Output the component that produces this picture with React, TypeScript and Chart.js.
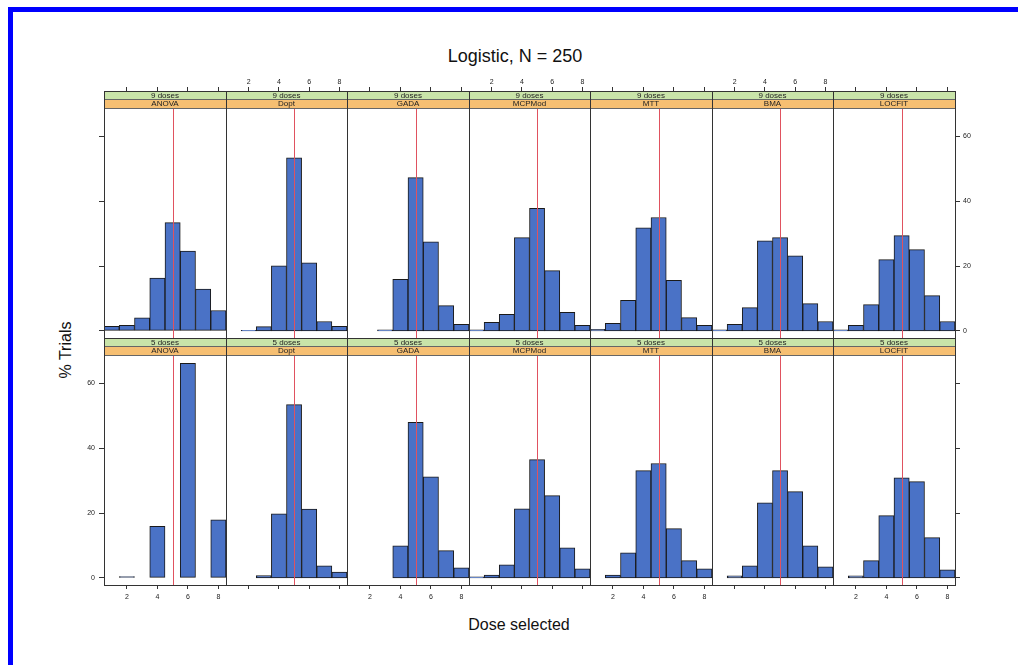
import React, { useEffect, useRef } from "react";
import { Chart, registerables } from "chart.js";

Chart.register(...registerables);

// ---------- data ----------
const doseBins = [1, 2, 3, 4, 5, 6, 7, 8];
const xTicks = [2, 4, 6, 8];
const yTicks = [0, 20, 40, 60];
const methods = ["ANOVA", "Dopt", "GADA", "MCPMod", "MTT", "BMA", "LOCFIT"];
const designs = ["9 doses", "5 doses"];
const targetDose = 5;
const yMin = -2.2;
const yMax = 68.8;

// % of trials selecting each dose, 9-dose design
const anova9 = [1.4, 1.7, 4.0, 16.3, 33.4, 24.6, 12.9, 6.3];
const dopt9 = [0, 0.2, 1.3, 20.1, 53.4, 21.0, 2.9, 1.4];
const gada9 = [0, 0, 0.3, 15.9, 47.3, 27.5, 7.8, 2.0];
const mcpmod9 = [0.3, 2.6, 5.1, 28.8, 37.8, 18.6, 5.7, 1.7];
const mtt9 = [0.5, 2.3, 9.4, 31.8, 35.0, 15.6, 4.1, 1.7];
const bma9 = [0.3, 2.0, 7.2, 27.8, 28.8, 23.2, 8.4, 2.9];
const locfit9 = [0.3, 1.7, 8.1, 22.0, 29.4, 25.1, 10.9, 2.9];

// % of trials selecting each dose, 5-dose design
const anova5 = [0, 0.4, 0, 15.9, 0, 66.2, 0, 17.9];
const dopt5 = [0, 0, 0.7, 19.8, 53.5, 21.2, 3.7, 1.8];
const gada5 = [0, 0, 0, 9.9, 48.0, 31.2, 8.4, 3.1];
const mcpmod5 = [0.3, 0.9, 4.0, 21.3, 36.5, 25.4, 9.3, 2.8];
const mtt5 = [0, 0.9, 7.7, 33.1, 35.3, 15.2, 5.3, 2.8];
const bma5 = [0, 0.6, 3.7, 23.2, 33.1, 26.6, 9.9, 3.4];
const locfit5 = [0, 0.6, 5.3, 19.2, 30.9, 29.7, 12.4, 2.5];

const rowValues = [
  [anova9, dopt9, gada9, mcpmod9, mtt9, bma9, locfit9],
  [anova5, dopt5, gada5, mcpmod5, mtt5, bma5, locfit5],
];

// ---------- layout / style ----------
const FONT = "'Liberation Sans', Arial, Helvetica, sans-serif";
const colEdges = [104, 226, 347, 469, 590, 712, 833, 955];
const rowEdges = [91, 338, 585];
const STRIP = 17;
const M = 30;
const BAR_FILL = "#4A72C6";
const BAR_BORDER = "#1a1a1a";
const RED = "#E0525F";
const GREEN = "#C9E4A9";
const ORANGE = "#F6BF72";
const AXIS = "#333333";

const panelPlugin = {
  id: "panelDecor",
  afterDraw(chart: any) {
    const o = chart.options.plugins.panelDecor;
    const ctx = chart.ctx as CanvasRenderingContext2D;
    const a = chart.chartArea;
    const xs = chart.scales.x;
    const ys = chart.scales.y;
    const plotTop = ys.getPixelForValue(yMax);
    ctx.save();
    // reference line at target dose
    const rx = Math.round(xs.getPixelForValue(targetDose)) + 0.5;
    ctx.strokeStyle = RED;
    ctx.lineWidth = 1;
    ctx.beginPath();
    ctx.moveTo(rx, plotTop);
    ctx.lineTo(rx, a.bottom);
    ctx.stroke();
    // strips
    const half = STRIP / 2;
    ctx.fillStyle = GREEN;
    ctx.fillRect(a.left, a.top, a.right - a.left, half);
    ctx.fillStyle = ORANGE;
    ctx.fillRect(a.left, a.top + half, a.right - a.left, half);
    ctx.strokeStyle = "#666";
    ctx.beginPath();
    ctx.moveTo(a.left, a.top + half);
    ctx.lineTo(a.right, a.top + half);
    ctx.moveTo(a.left, a.top + STRIP + 0.5);
    ctx.lineTo(a.right, a.top + STRIP + 0.5);
    ctx.stroke();
    ctx.fillStyle = "#222";
    ctx.font = `8px ${FONT}`;
    ctx.textAlign = "center";
    ctx.textBaseline = "middle";
    const cx = (a.left + a.right) / 2;
    ctx.fillText(o.design, cx, a.top + half / 2 + 0.5);
    ctx.fillText(o.method, cx, a.top + half + half / 2 + 0.5);
    // panel border
    ctx.strokeStyle = AXIS;
    ctx.lineWidth = 1;
    ctx.strokeRect(a.left + 0.5, a.top + 0.5, a.right - a.left, a.bottom - a.top);
    ctx.restore();
  },
};

function axisOpts(
  position: string,
  min: number,
  max: number,
  ticks: number[],
  showTicks: boolean,
  showLabels: boolean,
  horizontal: boolean,
  padding: number
) {
  return {
    type: "linear",
    position,
    min,
    max,
    offset: false,
    afterBuildTicks: (s: any) => {
      s.ticks = ticks.map((v) => ({ value: v }));
    },
    afterFit: (s: any) => {
      if (horizontal) s.height = M;
      else s.width = M;
    },
    grid: {
      display: showTicks,
      offset: false,
      drawOnChartArea: false,
      drawTicks: true,
      tickLength: horizontal ? 4 : 5,
      color: AXIS,
      lineWidth: 1,
    },
    border: { display: false },
    ticks: {
      display: true,
      autoSkip: false,
      maxRotation: 0,
      minRotation: 0,
      padding,
      color: "#222",
      font: { size: 7, family: FONT },
      callback: (v: any) => (showLabels ? String(v) : ""),
    },
  };
}

function Panel({ row, col }: { row: number; col: number }) {
  const ref = useRef<HTMLCanvasElement>(null);
  const left = colEdges[col];
  const right = colEdges[col + 1];
  const top = rowEdges[row];
  const bottom = rowEdges[row + 1];
  const w = right - left + 2 * M;
  const h = bottom - top + 2 * M;

  useEffect(() => {
    const plotH = bottom - top - STRIP;
    const scaleMax = yMax + (STRIP * (yMax - yMin)) / plotH;
    const values = rowValues[row][col];
    const isTop = row === 0;
    const labelCol = col % 2 === 0; // columns 1,3,5,7
    const chart = new Chart(ref.current as HTMLCanvasElement, {
      type: "bar",
      data: {
        datasets: [
          {
            data: doseBins.map((d, i) => ({ x: d, y: values[i] })),
            backgroundColor: BAR_FILL,
            borderColor: BAR_BORDER,
            borderWidth: 1,
            borderSkipped: false,
            barPercentage: 1,
            categoryPercentage: 1,
            xAxisID: "x",
            yAxisID: "y",
          } as any,
        ],
      },
      plugins: [panelPlugin as any],
      options: {
        responsive: false,
        maintainAspectRatio: false,
        animation: false,
        events: [],
        layout: { padding: 0 },
        plugins: {
          legend: { display: false },
          tooltip: { enabled: false },
          title: { display: false },
          panelDecor: { design: designs[row], method: methods[col] },
        } as any,
        scales: {
          x: axisOpts("bottom", 0.5, 8.5, xTicks, !isTop, !isTop && labelCol, true, 4) as any,
          x2: axisOpts("top", 0.5, 8.5, xTicks, isTop, isTop && !labelCol, true, 1) as any,
          y: axisOpts("left", yMin, scaleMax, yTicks, col === 0, !isTop && col === 0, false, 4) as any,
          y2: axisOpts("right", yMin, scaleMax, yTicks, col === 6, isTop && col === 6, false, 3) as any,
        },
      },
    });
    return () => chart.destroy();
  }, [row, col]);

  return (
    <canvas
      ref={ref}
      width={w}
      height={h}
      style={{ position: "absolute", left: left - M, top: top - M, width: w, height: h }}
    />
  );
}

export default function App() {
  const panels: any[] = [];
  for (let r = 0; r < 2; r++) {
    for (let c = 0; c < 7; c++) {
      panels.push(<Panel key={`${r}-${c}`} row={r} col={c} />);
    }
  }
  return (
    <div
      style={{
        position: "absolute",
        left: 0,
        top: 0,
        width: 1018,
        height: 665,
        background: "#fff",
        overflow: "hidden",
        fontFamily: FONT,
      }}
    >
      <div
        style={{
          position: "absolute",
          left: 8,
          top: 7,
          width: 1010,
          height: 658,
          borderTop: "5px solid #0000FF",
          borderLeft: "5px solid #0000FF",
          boxSizing: "border-box",
        }}
      />
      <div
        style={{
          position: "absolute",
          left: 515,
          top: 46,
          transform: "translateX(-50%)",
          fontSize: 18,
          lineHeight: "20px",
          whiteSpace: "nowrap",
          color: "#111",
        }}
      >
        Logistic, N = 250
      </div>
      <div
        style={{
          position: "absolute",
          left: 519,
          top: 616,
          transform: "translateX(-50%)",
          fontSize: 16,
          lineHeight: "18px",
          whiteSpace: "nowrap",
          color: "#111",
        }}
      >
        Dose selected
      </div>
      <div
        style={{
          position: "absolute",
          left: 66,
          top: 350,
          transform: "translate(-50%, -50%) rotate(-90deg)",
          fontSize: 16,
          lineHeight: "18px",
          whiteSpace: "nowrap",
          color: "#111",
        }}
      >
        % Trials
      </div>
      {panels}
    </div>
  );
}
